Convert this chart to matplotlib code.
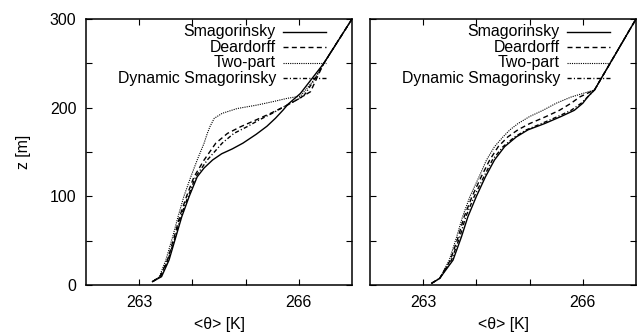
import matplotlib
matplotlib.use("Agg")
import matplotlib.pyplot as plt

plt.rcParams['font.family'] = ['Liberation Sans', 'DejaVu Sans']

labels = ["Smagorinsky", "Deardorff", "Two-part", "Dynamic Smagorinsky"]

# Left panel (T [K], z [m])
L_smag_T = [263.25, 263.42, 263.56, 263.69, 263.80, 263.94, 264.09, 264.22, 264.38, 264.55, 264.75, 264.95, 265.20, 265.40, 265.56, 265.70, 265.80, 266.03, 266.47, 267.0]
L_smag_z = [3.8, 9.4, 28, 54.5, 77, 100, 122, 132, 141, 148, 153.5, 160, 170, 179, 188, 197, 204, 216, 250, 300]
L_dear_T = [263.25, 263.39, 263.53, 263.66, 263.76, 263.89, 264.03, 264.22, 264.44, 264.66, 264.91, 265.19, 265.47, 265.72, 265.91, 266.22, 266.41, 266.47, 267.0]
L_dear_z = [3.8, 9.4, 28, 54.5, 77, 100, 122, 141, 160, 171, 178.6, 186, 193.6, 201, 207, 218, 242.5, 250, 300]
L_two_T = [263.25, 263.38, 263.50, 263.63, 263.73, 263.84, 263.97, 264.09, 264.22, 264.28, 264.33, 264.41, 264.56, 264.84, 265.22, 265.53, 265.78, 266.03, 266.28, 266.47, 267.0]
L_two_z = [3.8, 9.4, 28, 54.5, 77, 100, 122, 141, 160, 171, 178.6, 188, 193.6, 199, 203, 207, 210.5, 213, 231, 250, 300]
L_dyn_T = [263.25, 263.40, 263.54, 263.68, 263.78, 263.92, 264.06, 264.28, 264.56, 264.78, 265.03, 265.25, 265.50, 265.72, 265.91, 266.09, 266.31, 266.47, 267.0]
L_dyn_z = [3.8, 9.4, 28, 54.5, 77, 100, 122, 141, 160, 171, 178.6, 186, 193.6, 201, 207, 213, 233, 250, 300]

# Right panel
R_z = [2, 7.5, 28, 54.5, 77, 100, 122, 141, 156, 167, 175, 182, 190, 197, 205, 212, 220, 300]
R_smag_T = [263.16, 263.31, 263.56, 263.72, 263.84, 264.00, 264.17, 264.34, 264.53, 264.75, 264.97, 265.28, 265.59, 265.84, 266.00, 266.09, 266.22, 267.0]
R_dear_T = [263.16, 263.31, 263.51, 263.66, 263.77, 263.92, 264.09, 264.25, 264.41, 264.59, 264.78, 265.00, 265.31, 265.56, 265.78, 265.94, 266.22, 267.0]
R_two_T = [263.16, 263.31, 263.49, 263.63, 263.74, 263.88, 264.05, 264.19, 264.34, 264.50, 264.63, 264.78, 265.00, 265.25, 265.50, 265.78, 266.22, 267.0]
R_dyn_T = [263.16, 263.31, 263.53, 263.69, 263.80, 263.96, 264.14, 264.30, 264.50, 264.72, 264.94, 265.22, 265.53, 265.78, 265.97, 266.09, 266.22, 267.0]

x_major = [263, 266]
x_minor = [264, 265]
y_major = [0, 100, 200, 300]
y_minor = [50, 150, 250]

styles = [
    dict(ls='-', lw=1.0),
    dict(ls=(0, (3.6, 2.4)), lw=1.0),
    dict(ls=(0, (1, 1)), lw=0.8),
    dict(ls=(0, (3, 1.6, 0.8, 1.6)), lw=1.0),
]

FS = 11.4
fig = plt.figure(figsize=(6.39, 3.33), dpi=100)
axL = fig.add_axes([86/639, 48/333, 266/639, 266/333])
axR = fig.add_axes([370/639, 48/333, 266/639, 266/333])

panels = [
    (axL, [(L_smag_T, L_smag_z), (L_dear_T, L_dear_z), (L_two_T, L_two_z), (L_dyn_T, L_dyn_z)], True),
    (axR, [(R_smag_T, R_z), (R_dear_T, R_z), (R_two_T, R_z), (R_dyn_T, R_z)], False),
]

for ax, series, show_y in panels:
    for (T, z), st in zip(series, styles):
        ax.plot(T, z, color='black', **st)
    ax.set_xlim(262, 267)
    ax.set_ylim(0, 300)
    ax.set_xticks(x_major)
    ax.set_xticks(x_minor, minor=True)
    ax.set_yticks(y_major)
    ax.set_yticks(y_minor, minor=True)
    ax.tick_params(which='both', direction='in', top=True, right=True, length=4, width=0.8, labelsize=FS)
    ax.tick_params(axis='y', pad=7)
    ax.tick_params(axis='x', pad=7)
    if not show_y:
        ax.set_yticklabels([])
    else:
        ax.set_ylabel('z [m]', fontsize=FS)
        ax.yaxis.set_label_coords(-0.205, 0.5)
    ax.set_xlabel('<θ> [K]', fontsize=FS)
    ax.xaxis.set_label_coords(0.5, -0.12)
    for s in ax.spines.values():
        s.set_linewidth(1.1)
    # gnuplot-style key: right-aligned labels, line samples at right
    for i, (lab, st) in enumerate(zip(labels, styles)):
        yy = 0.952 - i * 0.058
        ax.text(0.714, yy, lab, transform=ax.transAxes, ha='right', va='center', fontsize=FS)
        ax.plot([0.742, 0.902], [yy, yy], transform=ax.transAxes, color='black', **st)

fig.savefig('out.png', dpi=100)
